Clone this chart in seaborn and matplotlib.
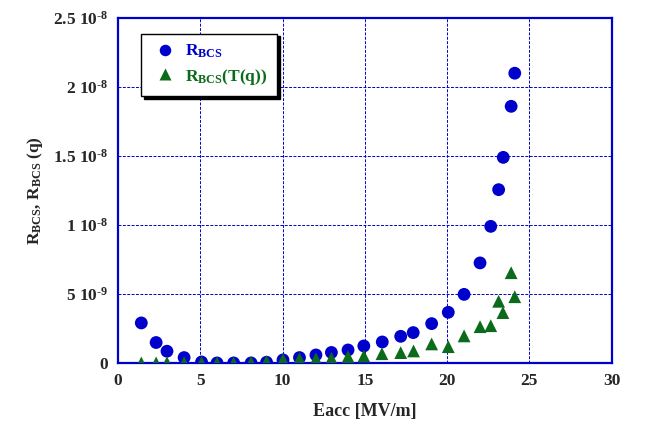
import matplotlib
matplotlib.use("Agg")
import matplotlib.pyplot as plt
import seaborn as sns
import pandas as pd

# ---- data ----
eacc_bcs = [1.42, 2.32, 2.98, 4.02, 5.08, 6.02, 7.03, 8.09, 9.03, 10.03, 11.03, 12.03,
            12.97, 13.98, 14.94, 16.06, 17.18, 17.94, 19.06, 20.07, 21.03, 22.0,
            22.65, 23.13, 23.41, 23.89, 24.11]
r_bcs = [2.9e-9, 1.48e-9, 0.85e-9, 0.39e-9, 0.07e-9, 0.0, 0.0, 0.0, 0.05e-9, 0.22e-9,
         0.39e-9, 0.58e-9, 0.76e-9, 0.94e-9, 1.23e-9, 1.52e-9, 1.93e-9, 2.2e-9,
         2.85e-9, 3.67e-9, 4.97e-9, 7.25e-9, 9.9e-9, 12.56e-9, 14.9e-9, 18.6e-9, 21.0e-9]

eacc_tq = [1.42, 2.32, 2.98, 4.02, 5.08, 6.02, 7.03, 8.09, 9.03, 10.03, 11.03, 12.03,
           12.97, 13.98, 14.94, 16.04, 17.18, 17.96, 19.06, 20.07, 21.03, 22.0,
           22.65, 23.13, 23.39, 23.89, 24.11]
r_bcs_tq = [0.0, 0.0, 0.02e-9, 0.02e-9, 0.03e-9, 0.0, 0.0, 0.03e-9, 0.1e-9, 0.25e-9,
            0.3e-9, 0.3e-9, 0.34e-9, 0.46e-9, 0.5e-9, 0.67e-9, 0.75e-9, 0.87e-9,
            1.38e-9, 1.18e-9, 1.96e-9, 2.63e-9, 2.7e-9, 4.47e-9, 3.65e-9, 6.54e-9, 4.8e-9]

series_names = [r"R$_{\mathbf{BCS}}$", r"R$_{\mathbf{BCS}}$(T(q))"]
x_ticks = [0, 5, 10, 15, 20, 25, 30]
y_ticks = [0, 5e-9, 1e-8, 1.5e-8, 2e-8, 2.5e-8]
y_tick_labels = ["0", r"5 10$^{\mathbf{‐9}}$", r"1 10$^{\mathbf{‐8}}$",
                 r"1.5 10$^{\mathbf{‐8}}$", r"2 10$^{\mathbf{‐8}}$", r"2.5 10$^{\mathbf{‐8}}$"]

df = pd.DataFrame({
    "Eacc": eacc_bcs + eacc_tq,
    "R": r_bcs + r_bcs_tq,
    "series": [series_names[0]] * len(eacc_bcs) + [series_names[1]] * len(eacc_tq),
})

sns.set_style("white")
plt.rcParams["font.family"] = ["Liberation Serif", "DejaVu Serif"]
plt.rcParams["font.weight"] = "bold"
plt.rcParams["mathtext.fontset"] = "custom"
plt.rcParams["mathtext.rm"] = "Liberation Serif:bold"
plt.rcParams["mathtext.it"] = "Liberation Serif:bold"
plt.rcParams["mathtext.bf"] = "Liberation Serif:bold"
plt.rcParams["mathtext.default"] = "bf"

blue = "#0000cc"
green = "#0b6b1b"
palette = {series_names[0]: blue, series_names[1]: green}
markers = {series_names[0]: "o", series_names[1]: "^"}

fig = plt.figure(figsize=(6.48, 4.24), dpi=100)
ax = fig.add_axes([0.182, 0.144, 0.762, 0.8135])

sns.scatterplot(data=df, x="Eacc", y="R", hue="series", style="series",
                palette=palette, markers=markers, s=85, edgecolor="none",
                ax=ax, legend=True, zorder=3)

ax.set_xlim(0, 30)
ax.set_ylim(0, 2.5e-8)
ax.set_xticks(x_ticks)
ax.set_xticklabels([str(t) for t in x_ticks], fontsize=12.5, fontweight="bold")
ax.set_yticks(y_ticks)
ax.set_yticklabels(y_tick_labels, fontsize=12.5, fontweight="bold")
ax.grid(True, color=blue, linestyle=(0, (3, 1.5)), linewidth=0.7)
for sp in ax.spines.values():
    sp.set_color(blue)
    sp.set_linewidth(1.6)
ax.tick_params(axis="both", direction="in", length=4, color=blue, width=1, pad=7)

ax.set_xlabel("Eacc [MV/m]", fontsize=13, fontweight="bold", labelpad=10)
ax.set_ylabel(r"R$_{\mathbf{BCS}}$, R$_{\mathbf{BCS}}$ (q)", fontsize=12.5,
              fontweight="bold", labelpad=6)

handles, labels = ax.get_legend_handles_labels()
leg = ax.legend(handles, labels, loc="upper left", bbox_to_anchor=(0.047, 0.955),
                borderaxespad=0,
                frameon=True, fancybox=False, edgecolor="black",
                shadow={"color": "black", "alpha": 1, "ox": 2, "oy": -2},
                prop={"family": "Liberation Serif", "weight": "bold", "size": 12.5},
                handletextpad=0.4, handlelength=1.6, borderpad=0.55,
                labelspacing=0.35, markerscale=0.9)
leg.get_frame().set_linewidth(1.0)
for txt, col in zip(leg.get_texts(), [blue, green]):
    txt.set_color(col)

fig.savefig("out.png", dpi=100)
